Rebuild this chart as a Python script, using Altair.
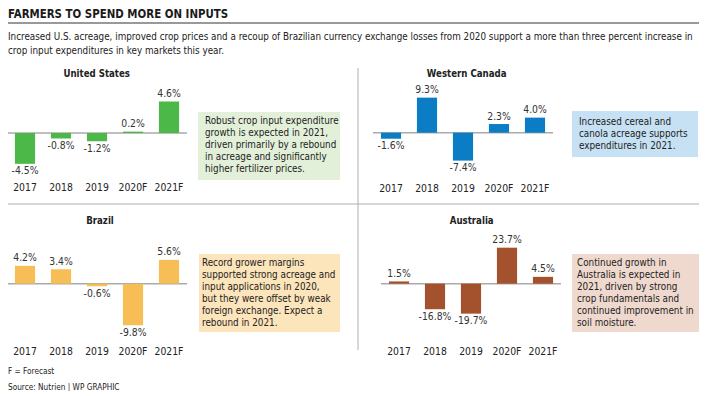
import altair as alt
import pandas as pd

years = ["2017", "2018", "2019", "2020F", "2021F"]
us_values = [-4.5, -0.8, -1.2, 0.2, 4.6]
canada_values = [-1.6, 9.3, -7.4, 2.3, 4.0]
brazil_values = [4.2, 3.4, -0.6, -9.8, 5.6]
australia_values = [1.5, -16.8, -19.7, 23.7, 4.5]

panel_names = ["United States", "Western Canada", "Brazil", "Australia"]

title_text = "FARMERS TO SPEND MORE ON INPUTS"
subtitle_lines = [
    "Increased U.S. acreage, improved crop prices and a recoup of Brazilian currency exchange losses from 2020 support a more than three percent increase in",
    "crop input expenditures in key markets this year.",
]
us_note = ["Robust crop input expenditure", "growth is expected in 2021,",
           "driven primarily by a rebound", "in acreage and significantly",
           "higher fertilizer prices."]
canada_note = ["Increased cereal and", "canola acreage supports", "expenditures in 2021."]
brazil_note = ["Record grower margins", "supported strong acreage and",
               "input applications in 2020,", "but they were offset by weak",
               "foreign exchange. Expect a", "rebound in 2021."]
australia_note = ["Continued growth in", "Australia is expected in",
                  "2021, driven by strong", "crop fundamentals and",
                  "continued improvement in", "soil moisture."]
footer_lines = ["F = Forecast", "Source: Nutrien | WP GRAPHIC"]

FONT = "'DejaVu Sans Condensed', 'DejaVu Sans', sans-serif"
TXT = "#222222"

W, H = 691, 383

one = pd.DataFrame({"k": [0]})


def panel(values, name, color, xr, base, pp, year_y, title_xy):
    df = pd.DataFrame({"year": years, "value": values,
                       "label": [f"{v:.1f}%" for v in values]})

    def X():
        return alt.X("year:N", scale=alt.Scale(domain=years, range=xr, paddingInner=0.44,
                                               paddingOuter=0.22), axis=None, sort=years)

    def Y():
        return alt.Y("value:Q", scale=alt.Scale(domain=[-30, 30],
                                                range=[base + 30 * pp, base - 30 * pp]), axis=None)

    b = alt.Chart(df)
    bars = b.mark_bar(color=color).encode(x=X(), y=Y(), y2=alt.datum(0))
    rule = alt.Chart(one).mark_rule(color="#aaaaaa", strokeWidth=1.5).encode(
        x=alt.value(xr[0]), x2=alt.value(xr[1]), y=alt.value(base))
    pos = b.transform_filter("datum.value >= 0").mark_text(
        font=FONT, fontSize=10.3, color="#333333", baseline="middle", dy=-7.5).encode(
        x=X(), y=Y(), text="label:N")
    neg = b.transform_filter("datum.value < 0").mark_text(
        font=FONT, fontSize=10.3, color="#333333", baseline="middle", dy=7.5).encode(
        x=X(), y=Y(), text="label:N")
    yrs = b.mark_text(font=FONT, fontSize=10.3, color=TXT, baseline="middle").encode(
        x=X(), y=alt.value(year_y), text="year:N")
    ttl = alt.Chart(one).mark_text(
        font=FONT, fontSize=9.6, fontWeight="bold", color=TXT, baseline="middle").encode(
        x=alt.value(title_xy[0]), y=alt.value(title_xy[1]), text=alt.value(name))
    return [rule, bars, pos, neg, yrs, ttl]


def note(lines, fill, x0, x1, y0, y1, tx, ty):
    c = alt.Chart(one)
    box = c.mark_rect(fill=fill).encode(
        x=alt.value(x0), x2=alt.value(x1), y=alt.value(y0), y2=alt.value(y1))
    txt = c.mark_text(font=FONT, fontSize=9.8, color=TXT, align="left",
                      baseline="alphabetic", lineHeight=12).encode(
        x=alt.value(tx), y=alt.value(ty), text=alt.value(lines))
    return [box, txt]


hdr = alt.Chart(one)
title = hdr.mark_text(font=FONT, fontSize=11.4, fontWeight="bold", color="#1a1a1a",
                      align="left", baseline="alphabetic").encode(
    x=alt.value(0), y=alt.value(9.5), text=alt.value(title_text))
title_rule = hdr.mark_rule(color="#999999", strokeWidth=2).encode(
    x=alt.value(-4), x2=alt.value(697), y=alt.value(15))
sub = hdr.mark_text(
    font=FONT, fontSize=9.8, color=TXT, align="left", baseline="alphabetic",
    lineHeight=14.5).encode(x=alt.value(0), y=alt.value(31.5), text=alt.value(subtitle_lines))
hsep = hdr.mark_rule(color="#b0b0b0", strokeWidth=1).encode(
    x=alt.value(-1), x2=alt.value(692), y=alt.value(196))
vsep = hdr.mark_rule(color="#b0b0b0", strokeWidth=1).encode(
    x=alt.value(350), y=alt.value(60), y2=alt.value(342))
foot = hdr.mark_text(
    font=FONT, fontSize=8.2, color=TXT, align="left", baseline="alphabetic",
    lineHeight=16).encode(x=alt.value(0), y=alt.value(366), text=alt.value(footer_lines))

layers = [title, title_rule, sub, hsep, vsep, foot]
layers += note(us_note, "#e2f0da", 190, 332, 104, 172, 197, 116)
layers += note(canada_note, "#c6e1f3", 564, 690, 103, 149, 571, 117)
layers += note(brazil_note, "#fce4bb", 191, 332, 246, 324, 194, 258.3)
layers += note(australia_note, "#efd9cf", 564, 691, 246, 324, 569, 258.3)
layers += panel(us_values, panel_names[0], "#4cb848", [-1, 179], 125, 6.85, 180, (88.7, 66))
layers += panel(canada_values, panel_names[1], "#0b7dc5", [365, 545], 124.7, 3.77, 181, (458.7, 66))
layers += panel(brazil_values, panel_names[2], "#f6be55", [-1, 179], 275.7, 4.25, 344, (92, 212.7))
layers += panel(australia_values, panel_names[3], "#a4512e", [373, 553], 275.7, 1.52, 344, (463.7, 212.7))

chart = alt.layer(*layers).resolve_scale(x="independent", y="independent").properties(
    width=W, height=H, padding=0, autosize=alt.AutoSizeParams(type="none"),
).configure_view(stroke=None)

chart.save("out.html", embed_options={"renderer": "svg", "actions": False})
